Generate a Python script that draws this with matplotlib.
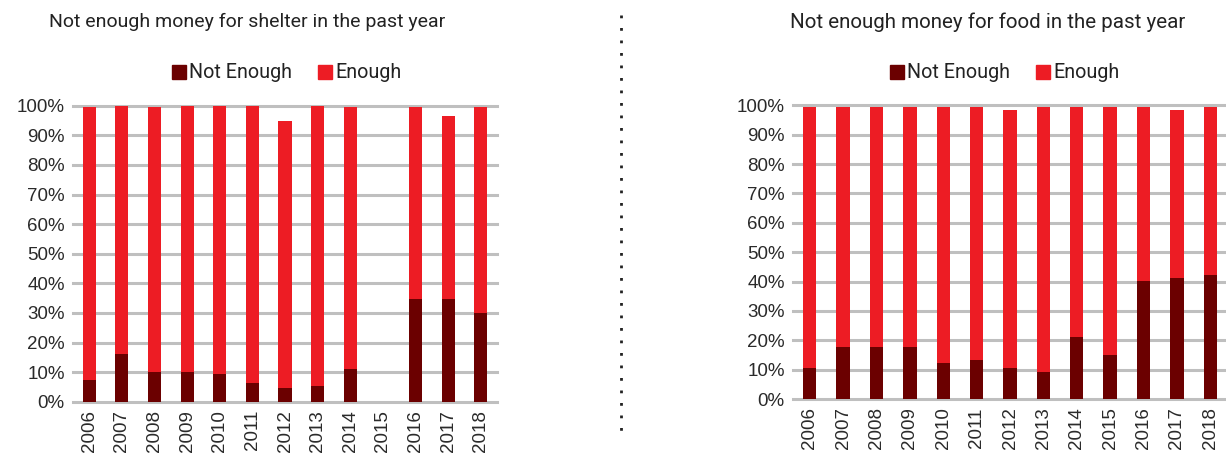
import numpy as np
import matplotlib
matplotlib.use("Agg")
import matplotlib.pyplot as plt
from matplotlib.lines import Line2D
from matplotlib.ticker import PercentFormatter

anos = ['2006', '2007', '2008', '2009', '2010', '2011', '2012',
        '2013', '2014', '2015', '2016', '2017', '2018']

# abrigo (shelter): parcela sem dinheiro suficiente e total da barra
abrigo_nao = [7.3, 16.2, 10.1, 10.1, 9.2, 6.4, 4.7, 5.4, 10.9, np.nan, 34.6, 34.6, 29.8]
abrigo_total = [99.4, 100.0, 99.4, 100.0, 100.0, 100.0, 94.8, 100.0, 99.4, np.nan, 99.4, 96.6, 99.4]

# comida (food)
comida_nao = [10.4, 17.6, 17.6, 17.6, 12.1, 13.2, 10.4, 9.3, 21.2, 14.9, 40.3, 41.3, 42.1]
comida_total = [99.5, 99.5, 99.5, 99.5, 99.5, 99.5, 98.4, 99.5, 99.5, 99.5, 99.5, 98.4, 99.5]

COR_NAO = '#6B0000'
COR_SIM = '#ED1C24'
COR_GRADE = '#BFBFBF'
FONTE_TITULO = ['Roboto', 'DejaVu Sans']
FONTE_EIXO = ['Liberation Sans', 'DejaVu Sans']

W, H = 1226, 467
fig = plt.figure(figsize=(W / 100, H / 100), dpi=100)


def eixo_px(x0, x1, y_top, y_bot):
    return fig.add_axes([x0 / W, 1 - y_bot / H, (x1 - x0) / W, (y_bot - y_top) / H])


def desenhar(ax, nao, total, titulo, tx, tam_titulo, lx):
    nao = np.array(nao, dtype=float)
    total = np.array(total, dtype=float)
    sim = total - nao
    x = np.arange(len(anos))
    ax.bar(x, nao, width=0.4, color=COR_NAO, zorder=3, clip_on=False)
    ax.bar(x, sim, bottom=nao, width=0.4, color=COR_SIM, zorder=3, clip_on=False)

    ax.set_xlim(-0.5, len(anos) - 0.5)
    ax.set_ylim(0, 100)
    ax.set_yticks(np.arange(0, 101, 10))
    ax.yaxis.set_major_formatter(PercentFormatter(decimals=0))
    ax.set_xticks(x)
    ax.set_xticklabels(anos, rotation=90)
    ax.grid(axis='y', color=COR_GRADE, linewidth=2.2, zorder=0, clip_on=False)
    ax.set_axisbelow(True)
    for s in ax.spines.values():
        s.set_visible(False)
    ax.tick_params(length=0, labelsize=13.5, colors='#2a2a2a', pad=6)
    for lab in ax.get_xticklabels() + ax.get_yticklabels():
        lab.set_family(FONTE_EIXO)

    fig.text(tx / W, 1 - 22 / H, titulo, ha='center', va='center',
             fontsize=tam_titulo, family=FONTE_TITULO, color='#222222')
    handles = [Line2D([], [], marker='s', linestyle='none', markersize=10,
                      color=COR_NAO, label='Not Enough'),
               Line2D([], [], marker='s', linestyle='none', markersize=10,
                      color=COR_SIM, label='Enough')]
    fig.legend(handles=handles, loc='center', bbox_to_anchor=(lx / W, 1 - 73 / H),
               ncol=2, frameon=False, handletextpad=0.0, columnspacing=1.2,
               handlelength=1.0, prop={'family': FONTE_TITULO, 'size': 14.2},
               labelcolor='#222222')


ax1 = eixo_px(73, 497, 105.7, 401.7)
desenhar(ax1, abrigo_nao, abrigo_total,
         'Not enough money for shelter in the past year', 247, 14.0, 285)

ax2 = eixo_px(793, 1227, 105.3, 399)
desenhar(ax2, comida_nao, comida_total,
         'Not enough money for food in the past year', 988, 14.8, 1003)

# linha pontilhada separando os dois graficos
fig.add_artist(Line2D([621 / W, 621 / W], [1 - 15 / H, 1 - 438 / H],
                      color='#222222', linestyle=(0, (1, 3.5)), linewidth=2))

fig.savefig('out.png', dpi=100)
